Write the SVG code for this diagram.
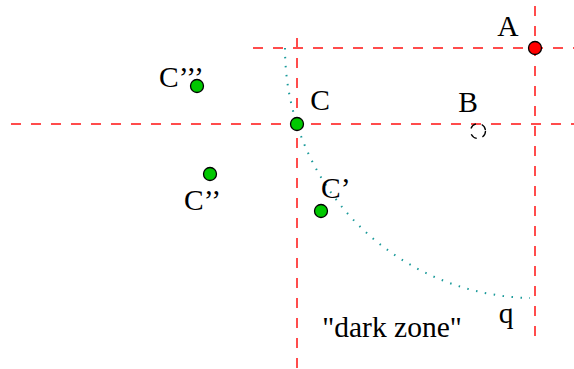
<svg xmlns="http://www.w3.org/2000/svg" width="574" height="369" viewBox="0 0 574 369">
<style>
.guide{stroke:#ff4c4c;stroke-width:2;stroke-dasharray:10 10;fill:none}
.arc{stroke:#1a9a9a;stroke-width:2;stroke-dasharray:1.5 7.5;fill:none}
.pt{fill:#00c800;stroke:#000;stroke-width:1.3}
.lbl{font-family:"Liberation Serif",serif;font-size:29.5px;fill:#000}
</style>
<rect width="574" height="369" fill="#fff"/>
<g id="connectors">
<line class="guide" x1="253" y1="48" x2="574" y2="48"/>
<line class="guide" x1="11" y1="124" x2="574" y2="124"/>
<line class="guide" x1="535" y1="6" x2="535" y2="336"/>
<line class="guide" x1="297" y1="38" x2="297" y2="369"/>
<path class="arc" d="M285,48 A250,250 0 0 0 530,298"/>
</g>
<g id="A"><circle cx="535" cy="48" r="6.5" fill="#f00" stroke="#000" stroke-width="1.3"/><text class="lbl" x="508" y="36" text-anchor="middle">A</text></g>
<g id="B"><circle cx="478" cy="131" r="7.5" fill="none" stroke="#000" stroke-width="1.3" stroke-dasharray="7 6"/><text class="lbl" x="468" y="112" text-anchor="middle">B</text></g>
<g id="C"><circle class="pt" cx="297" cy="124" r="6.5"/><text class="lbl" x="320" y="110" text-anchor="middle">C</text></g>
<g id="C1"><circle class="pt" cx="321" cy="211" r="6.5"/><text class="lbl" x="321" y="198">C’</text></g>
<g id="C2"><circle class="pt" cx="210" cy="174" r="6.5"/><text class="lbl" x="184" y="210">C’’</text></g>
<g id="C3"><circle class="pt" cx="197" cy="86" r="6.5"/><text class="lbl" x="159" y="87">C’’’</text></g>
<g id="darkzone"><text class="lbl" x="392" y="337" text-anchor="middle">"dark zone"</text></g>
<g id="q"><text class="lbl" x="506" y="323" text-anchor="middle">q</text></g>
</svg>
